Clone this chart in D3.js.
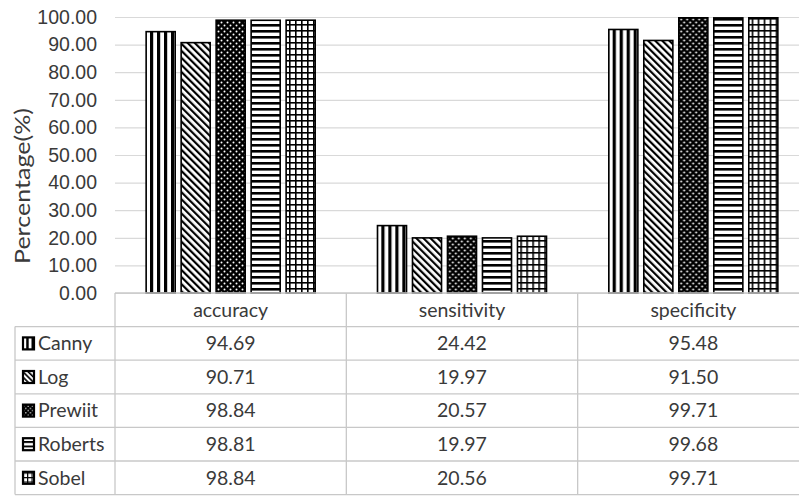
<!DOCTYPE html>
<html>
<head>
<meta charset="utf-8">
<script src="https://cdn.jsdelivr.net/npm/d3@7"></script>
<style>
  body { margin: 0; background: #fff; }
  svg { display: block; font-family: Lato, "Open Sans", sans-serif; }
</style>
</head>
<body>
<svg id="chart" width="799" height="497"></svg>
<script>
// Metrics (columns) and edge detectors (rows / series)
const categories = ["accuracy", "sensitivity", "specificity"];
const methods = ["Canny", "Log", "Prewiit", "Roberts", "Sobel"];

// Percentages per detector, in category order
const cannyValues   = [94.69, 24.42, 95.48];
const logValues     = [90.71, 19.97, 91.50];
const prewittValues = [98.84, 20.57, 99.71];
const robertsValues = [98.81, 19.97, 99.68];
const sobelValues   = [98.84, 20.56, 99.71];

const yTicks = [0, 10, 20, 30, 40, 50, 60, 70, 80, 90, 100];
const yLabel = "Percentage(%)";

const seriesValues = [cannyValues, logValues, prewittValues, robertsValues, sobelValues];
const patternIds = ["pVert", "pDiag", "pDots", "pHoriz", "pGrid"];

const svg = d3.select("#chart");
const textColor = "#3a3a3a";
const tableLine = "#c8c8c8";
const fontSize = 19.5;

// ---- fill patterns ----
const defs = svg.append("defs");
function makePatterns(suffix, scale) {
  const t = scale === 1 ? null : `scale(${scale})`;
  // vertical stripes
  let p = defs.append("pattern").attr("id", "pVert" + suffix).attr("patternUnits", "userSpaceOnUse")
    .attr("width", 7).attr("height", 7);
  if (t) p.attr("patternTransform", t);
  p.append("rect").attr("width", 7).attr("height", 7).attr("fill", "#fff");
  p.append("rect").attr("x", 0).attr("width", 3.2).attr("height", 7).attr("fill", "#000");
  // diagonal stripes (top-left to bottom-right)
  p = defs.append("pattern").attr("id", "pDiag" + suffix).attr("patternUnits", "userSpaceOnUse")
    .attr("width", 5).attr("height", 5)
    .attr("patternTransform", `${t ? t + " " : ""}rotate(-45)`);
  p.append("rect").attr("width", 5).attr("height", 5).attr("fill", "#fff");
  p.append("rect").attr("width", 2.2).attr("height", 5).attr("fill", "#000");
  // black with white dots
  p = defs.append("pattern").attr("id", "pDots" + suffix).attr("patternUnits", "userSpaceOnUse")
    .attr("width", 6).attr("height", 6);
  if (t) p.attr("patternTransform", t);
  p.append("rect").attr("width", 6).attr("height", 6).attr("fill", "#000");
  p.append("circle").attr("cx", 1.5).attr("cy", 1.5).attr("r", 1).attr("fill", "#fff");
  p.append("circle").attr("cx", 4.5).attr("cy", 4.5).attr("r", 1).attr("fill", "#fff");
  // horizontal stripes
  p = defs.append("pattern").attr("id", "pHoriz" + suffix).attr("patternUnits", "userSpaceOnUse")
    .attr("width", 6).attr("height", 6);
  if (t) p.attr("patternTransform", t);
  p.append("rect").attr("width", 6).attr("height", 6).attr("fill", "#fff");
  p.append("rect").attr("y", 0).attr("width", 6).attr("height", 2.6).attr("fill", "#000");
  // grid
  p = defs.append("pattern").attr("id", "pGrid" + suffix).attr("patternUnits", "userSpaceOnUse")
    .attr("width", 6).attr("height", 6);
  if (t) p.attr("patternTransform", t);
  p.append("rect").attr("width", 6).attr("height", 6).attr("fill", "#fff");
  p.append("rect").attr("width", 1.6).attr("height", 6).attr("fill", "#000");
  p.append("rect").attr("width", 6).attr("height", 1.6).attr("fill", "#000");
}
makePatterns("", 1);
makePatterns("Key", 0.75);

// ---- scales ----
const plotLeft = 115, colWidth = 231.33;
const plotRight = plotLeft + colWidth * categories.length;
const y = d3.scaleLinear().domain([0, 100]).range([293, 17]);
const x0 = d3.scaleBand().domain(categories).range([plotLeft, plotRight]);
const x1 = d3.scaleBand().domain(methods).range([0, x0.bandwidth()])
  .paddingInner(0.17).paddingOuter(0.89);

// ---- gridlines and y-axis labels ----
const yAxis = d3.axisLeft(y).tickValues(yTicks).tickFormat(d3.format(".2f"))
  .tickSize(-(plotRight - plotLeft)).tickPadding(18);
const gy = svg.append("g").attr("transform", `translate(${plotLeft},0)`).call(yAxis);
gy.select(".domain").remove();
gy.selectAll(".tick line").attr("stroke", "#d9d9d9").attr("stroke-width", 1.2);
gy.selectAll(".tick text").attr("fill", textColor).attr("font-size", fontSize);

svg.append("text")
  .attr("transform", "translate(30,186) rotate(-90)")
  .attr("text-anchor", "middle").attr("fill", textColor).attr("font-size", 21)
  .attr("textLength", 156).attr("lengthAdjust", "spacingAndGlyphs")
  .text(yLabel);

// ---- bars ----
const groups = svg.append("g").selectAll("g")
  .data(categories).join("g")
  .attr("transform", d => `translate(${x0(d)},0)`);
groups.selectAll("rect")
  .data((c, ci) => methods.map((m, mi) => ({ m, mi, v: seriesValues[mi][ci] })))
  .join("rect")
  .attr("x", d => x1(d.m))
  .attr("y", d => y(d.v))
  .attr("width", x1.bandwidth())
  .attr("height", d => y(0) - y(d.v))
  .attr("fill", d => `url(#${patternIds[d.mi]})`)
  .attr("stroke", "#000").attr("stroke-width", 1.6);

// ---- data table ----
const tableTop = y(0), rowH = 33.6, tableLeft = 15;
const t = svg.append("g");
const nRows = methods.length + 1;
const tableBottom = tableTop + rowH * nRows;
// horizontal rules
t.append("line").attr("x1", plotLeft).attr("x2", plotRight).attr("y1", tableTop).attr("y2", tableTop);
d3.range(1, nRows + 1).forEach(r => {
  t.append("line").attr("x1", tableLeft).attr("x2", plotRight)
    .attr("y1", tableTop + r * rowH).attr("y2", tableTop + r * rowH);
});
// vertical rules
t.append("line").attr("x1", tableLeft).attr("x2", tableLeft).attr("y1", tableTop + rowH).attr("y2", tableBottom);
categories.forEach(c => {
  t.append("line").attr("x1", x0(c)).attr("x2", x0(c)).attr("y1", tableTop).attr("y2", tableBottom);
});
t.append("line").attr("x1", plotRight).attr("x2", plotRight).attr("y1", tableTop).attr("y2", tableBottom);
t.selectAll("line").attr("stroke", tableLine).attr("stroke-width", 1.3);

// header
t.selectAll("text.head").data(categories).join("text").attr("class", "head")
  .attr("x", d => x0(d) + x0.bandwidth() / 2).attr("y", tableTop + rowH / 2)
  .attr("dy", "0.35em").attr("text-anchor", "middle")
  .attr("fill", textColor).attr("font-size", fontSize).text(d => d);

// rows: legend key, detector name, one value per metric
methods.forEach((m, mi) => {
  const cy = tableTop + rowH * (mi + 1) + rowH / 2;
  t.append("rect").attr("x", tableLeft + 8).attr("y", cy - 6).attr("width", 11).attr("height", 12)
    .attr("fill", `url(#${patternIds[mi]}Key)`).attr("stroke", "#000").attr("stroke-width", 2.2);
  t.append("text").attr("x", tableLeft + 23).attr("y", cy).attr("dy", "0.35em")
    .attr("fill", textColor).attr("font-size", fontSize).text(m);
  categories.forEach((c, ci) => {
    t.append("text").attr("x", x0(c) + x0.bandwidth() / 2).attr("y", cy).attr("dy", "0.35em")
      .attr("text-anchor", "middle").attr("fill", textColor).attr("font-size", fontSize)
      .text(d3.format(".2f")(seriesValues[mi][ci]));
  });
});
</script>
</body>
</html>
